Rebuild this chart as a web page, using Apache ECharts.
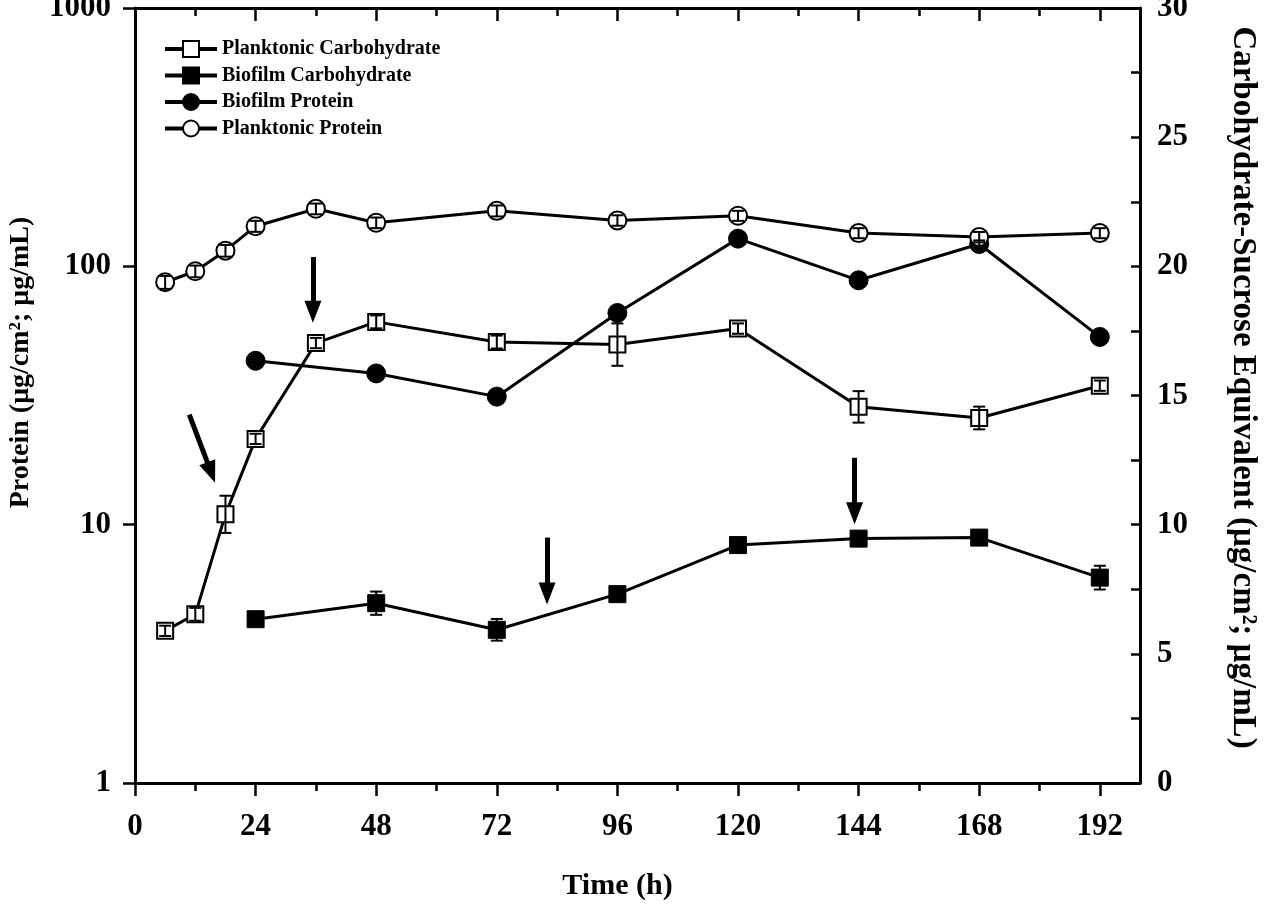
<!DOCTYPE html>
<html>
<head>
<meta charset="utf-8">
<script src="https://cdn.jsdelivr.net/npm/echarts@6/dist/echarts.min.js"></script>
<style>
  html, body { margin: 0; padding: 0; background: #fff; }
  #chart { width: 1267px; height: 913px; }
</style>
</head>
<body>
<div id="chart"></div>
<script>
// sampling times (h)
const hours = [6, 12, 18, 24, 36, 48, 72, 96, 120, 144, 168, 192];
const biofilmHours = [24, 48, 72, 96, 120, 144, 168, 192];

// protein, left log axis (µg/cm2; µg/mL)
const planktonicProtein = [86.8, 95.7, 115, 143, 167, 147.5, 164, 150.6, 157, 134.5, 129.8, 134.5];
const planktonicProteinErr = [5, 5, 6, 7, 8, 7, 8, 7, 7, 6, 6, 6];
const biofilmProtein = [43.1, 38.5, 31.3, 66, 128, 88.3, 122, 53.3];
const biofilmProteinErr = [1.5, 1.5, 1.2, 2.5, 5, 3, 4, 2];

// carbohydrate, right axis (sucrose equivalent)
const planktonicCarb = [5.89, 6.53, 10.40, 13.32, 17.03, 17.85, 17.07, 16.97, 17.59, 14.56, 14.13, 15.38];
const planktonicCarbErr = [0.2, 0.25, 0.72, 0.2, 0.2, 0.25, 0.25, 0.82, 0.2, 0.61, 0.44, 0.2];
const biofilmCarb = [6.34, 6.96, 5.93, 7.31, 9.21, 9.46, 9.50, 7.95];
const biofilmCarbErr = [0.15, 0.45, 0.42, 0.2, 0.2, 0.2, 0.2, 0.46];

// annotation arrows [x0, y0, x1, y1] in (h, right-axis units); end = head centre
const arrows = [
  [10.8, 14.26, 15.16, 12.02],
  [35.4, 20.36, 35.4, 18.24],
  [82.0, 9.50, 82.0, 7.34],
  [143.2, 12.59, 143.2, 10.44]
];

const xTicks = [0, 24, 48, 72, 96, 120, 144, 168, 192];
const xMinor = [12, 36, 60, 84, 108, 132, 156, 180];

const FONT = "'Liberation Serif', 'Times New Roman', serif";
const black = '#000';

function pairs(xs, ys) { return xs.map((x, i) => [x, ys[i]]); }
function errs(xs, ys, es) { return xs.map((x, i) => [x, ys[i] - es[i], ys[i] + es[i]]); }

function errorBar(params, api) {
  const x = api.value(0);
  const lo = api.coord([x, api.value(1)]);
  const hi = api.coord([x, api.value(2)]);
  const w = 6;
  const style = { stroke: black, lineWidth: 2, fill: null };
  return {
    type: 'group',
    children: [
      { type: 'line', shape: { x1: lo[0], y1: lo[1], x2: hi[0], y2: hi[1] }, style },
      { type: 'line', shape: { x1: lo[0] - w, y1: lo[1], x2: lo[0] + w, y2: lo[1] }, style },
      { type: 'line', shape: { x1: hi[0] - w, y1: hi[1], x2: hi[0] + w, y2: hi[1] }, style }
    ]
  };
}

function errSeries(data, yIdx) {
  return { type: 'custom', yAxisIndex: yIdx, renderItem: errorBar, data: data, z: 5, silent: true,
    encode: { x: 0, y: [1, 2] } };
}

const tickLabel = { fontFamily: FONT, fontWeight: 'bold', fontSize: 31, color: black };
const axisLine = { show: true, onZero: false, lineStyle: { color: black, width: 3 } };

const chart = echarts.init(document.getElementById('chart'));
chart.setOption({
  animation: false,
  backgroundColor: '#fff',
  grid: { left: 135, right: 127, top: 8, bottom: 130, containLabel: false, outerBoundsMode: 'none' },
  legend: {
    data: ['Planktonic Carbohydrate', 'Biofilm Carbohydrate', 'Biofilm Protein', 'Planktonic Protein'],
    orient: 'vertical', left: 158, top: 34,
    itemWidth: 52, itemHeight: 20, itemGap: 6.5, selectedMode: false,
    lineStyle: { width: 4 },
    textStyle: { fontFamily: FONT, fontWeight: 'bold', fontSize: 20, color: black, lineHeight: 20 }
  },
  xAxis: [
    {
      type: 'value', position: 'bottom', min: 0, max: 200, interval: 24,
      axisLine: axisLine,
      axisTick: { show: true, length: 13, customValues: xTicks, lineStyle: { color: black, width: 2.5 } },
      axisLabel: Object.assign({ margin: 28, customValues: xTicks }, tickLabel),
      splitLine: { show: false },
      name: 'Time (h)', nameLocation: 'middle', nameGap: 88,
      nameTextStyle: { fontFamily: FONT, fontWeight: 'bold', fontSize: 30, color: black, padding: [0, 40, 0, 0] }
    },
    {
      type: 'value', position: 'bottom', min: 0, max: 200, interval: 12,
      axisLine: { show: false },
      axisTick: { show: true, length: 8, customValues: xMinor, lineStyle: { color: black, width: 2.5 } },
      axisLabel: { show: false }, splitLine: { show: false }
    },
    {
      type: 'value', position: 'top', min: 0, max: 200, interval: 24,
      axisLine: axisLine,
      axisTick: { show: true, inside: true, length: 13, customValues: xTicks, lineStyle: { color: black, width: 2.5 } },
      axisLabel: { show: false }, splitLine: { show: false }
    },
    {
      type: 'value', position: 'top', min: 0, max: 200, interval: 12,
      axisLine: { show: false },
      axisTick: { show: true, inside: true, length: 8, customValues: xMinor, lineStyle: { color: black, width: 2.5 } },
      axisLabel: { show: false }, splitLine: { show: false }
    }
  ],
  yAxis: [
    {
      type: 'log', logBase: 10, min: 1, max: 1000, position: 'left',
      axisLine: axisLine,
      axisTick: { show: true, length: 12, lineStyle: { color: black, width: 2.5 } },
      axisLabel: Object.assign({ margin: 24, formatter: v => String(Math.round(v)) }, tickLabel),
      splitLine: { show: false },
      name: 'Protein (μg/cm²; μg/mL)', nameLocation: 'middle', nameGap: 100, nameRotate: 90,
      nameTextStyle: { fontFamily: FONT, fontWeight: 'bold', fontSize: 28, color: black, padding: [0, 0, 0, 66] }
    },
    {
      type: 'value', min: 0, max: 30, interval: 5, position: 'right',
      axisLine: axisLine,
      axisTick: { show: true, inside: true, length: 9, lineStyle: { color: black, width: 2.5 } },
      minorTick: { show: true, splitNumber: 2, length: 9, lineStyle: { color: black, width: 2.5 } },
      axisLabel: Object.assign({ margin: 17 }, tickLabel),
      splitLine: { show: false },
      name: 'Carbohydrate-Sucrose Equivalent (μg/cm²; μg/mL)', nameLocation: 'middle', nameGap: 86, nameRotate: -90,
      nameTextStyle: { fontFamily: FONT, fontWeight: 'bold', fontSize: 33, color: black, padding: [0, 16, 0, 0] }
    }
  ],
  series: [
    {
      name: 'Planktonic Carbohydrate', type: 'line', yAxisIndex: 1,
      data: pairs(hours, planktonicCarb),
      symbol: 'rect', symbolSize: 16,
      itemStyle: { color: '#fff', borderColor: black, borderWidth: 2 },
      lineStyle: { color: black, width: 3 }, z: 3,
      markLine: {
        silent: true, symbol: ['none', 'triangle'], symbolSize: [17, 22],
        label: { show: false },
        lineStyle: { color: black, width: 5, type: 'solid' },
        data: arrows.map(a => [{ coord: [a[0], a[1]] }, { coord: [a[2], a[3]] }])
      }
    },
    {
      name: 'Biofilm Carbohydrate', type: 'line', yAxisIndex: 1,
      data: pairs(biofilmHours, biofilmCarb),
      symbol: 'rect', symbolSize: 17,
      itemStyle: { color: black, borderColor: black, borderWidth: 1 },
      lineStyle: { color: black, width: 3 }, z: 3
    },
    {
      name: 'Biofilm Protein', type: 'line', yAxisIndex: 0,
      data: pairs(biofilmHours, biofilmProtein),
      symbol: 'circle', symbolSize: 19,
      itemStyle: { color: black, borderColor: black, borderWidth: 1 },
      lineStyle: { color: black, width: 3 }, z: 3
    },
    {
      name: 'Planktonic Protein', type: 'line', yAxisIndex: 0,
      data: pairs(hours, planktonicProtein),
      symbol: 'circle', symbolSize: 18,
      itemStyle: { color: '#fff', borderColor: black, borderWidth: 2 },
      lineStyle: { color: black, width: 3 }, z: 3
    },
    errSeries(errs(hours, planktonicCarb, planktonicCarbErr), 1),
    errSeries(errs(biofilmHours, biofilmCarb, biofilmCarbErr), 1),
    errSeries(errs(biofilmHours, biofilmProtein, biofilmProteinErr), 0),
    errSeries(errs(hours, planktonicProtein, planktonicProteinErr), 0)
  ]
});
</script>
</body>
</html>
